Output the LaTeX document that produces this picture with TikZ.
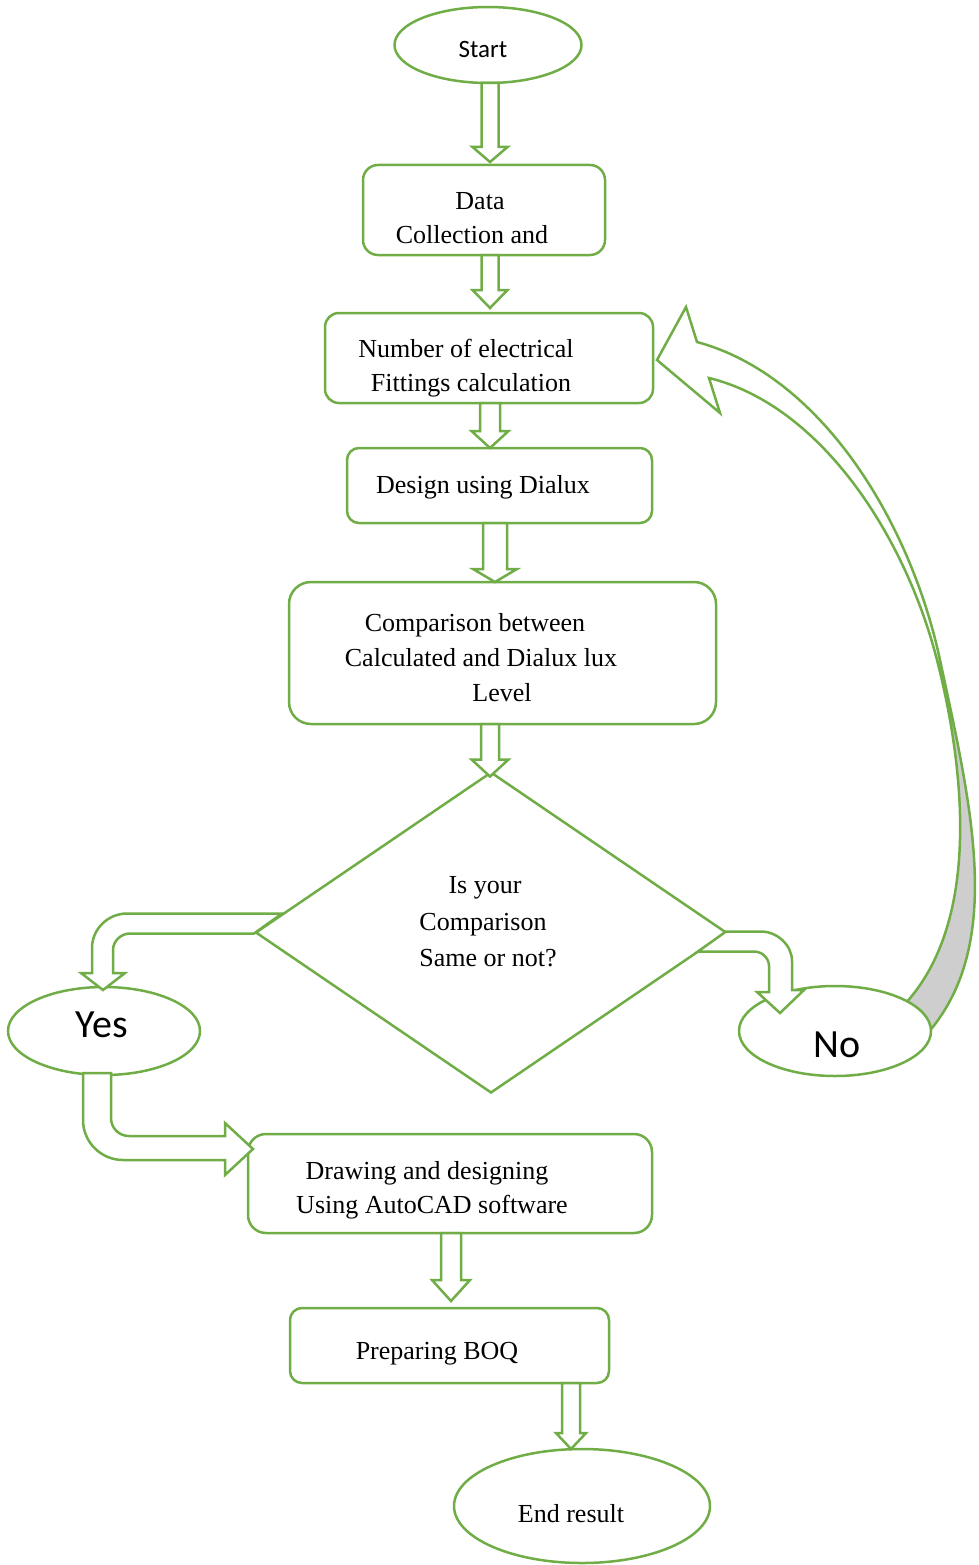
\documentclass[tikz,border=0pt]{standalone}
\usepackage{fontspec}
\setmainfont{Liberation Serif}
\newfontfamily\calibri{Carlito}
\usetikzlibrary{shapes.geometric,calc}
\definecolor{grn}{RGB}{112,173,71}
\definecolor{bandgray}{RGB}{206,206,206}
\tikzset{
 shp/.style={draw=grn, line width=2.5pt, fill=white, inner sep=0pt, outer sep=0pt},
 oval/.style={shp, ellipse},
 box/.style={shp, rectangle, rounded corners=#1},
 box/.default=14pt,
 dia/.style={shp, diamond},
 blk/.style={draw=grn, line width=2.5pt, fill=white, line join=miter},
 txt/.style={anchor=base, inner sep=0pt, font=\fontsize{26}{32}\selectfont},
 ctxt/.style={anchor=base, inner sep=0pt, font=\calibri\fontsize{25}{30}\selectfont},
 btxt/.style={anchor=base, inner sep=0pt, font=\calibri\fontsize{40}{48}\selectfont},
}
% from, to, x centre, shaft half width, head half width, head length, tip offset (down +)
\newcommand\dnarrow[7]{%
 \draw[blk] let \p1=(#1), \p2=($(#2)+(0,#7)$) in
   (#3pt-#4pt,\y1) -- (#3pt-#4pt,\y2+#6pt) -- (#3pt-#5pt,\y2+#6pt) -- (#3pt,\y2)
   -- (#3pt+#5pt,\y2+#6pt) -- (#3pt+#4pt,\y2+#6pt) -- (#3pt+#4pt,\y1) -- cycle;}
\begin{document}
\begin{tikzpicture}[x=1pt,y=-1pt]
\useasboundingbox (0,0) rectangle (978,1565);

% node needed by the curved arrow, and the centre of the No node
\node[box=14pt, minimum width=328pt, minimum height=90pt] (number) at (489,358) {};
\coordinate (noC) at (835,1031);

% curved return arrow (No -> Number)
\coordinate (cvTip) at ($(number.east)+(4,2)$);
\coordinate (cvN1) at ($(cvTip)+(40,-18)$);
\coordinate (cvN2) at ($(cvTip)+(52,18)$);
\coordinate (cvB1) at ($(noC)+(92,3)$);
\coordinate (cvB2) at ($(noC)+(68,-25)$);
\fill[bandgray] (940,660) .. controls (971.5,807) and (1005,945) .. (cvB1)
  -- (cvB2) .. controls (985,920) and (961.8,757) .. (937,660) -- cycle;
\draw[grn, line width=2.5pt, line join=miter]
  (cvB1) .. controls (1005,945) and (971.5,807) .. (940,660)
  .. controls (910,520) and (820,375) .. (cvN1)
  -- ($(cvTip)+(29,-53)$) -- (cvTip) -- ($(cvTip)+(63,53)$) -- (cvN2)
  .. controls (820,405) and (905,535) .. (937,660)
  .. controls (961.8,757) and (985,920) .. (cvB2);

% nodes
\node[oval, minimum width=192pt, minimum height=90pt] (no) at (noC) {};
\node[oval, minimum width=187pt, minimum height=76pt] (start) at (488,45) {};
\node[box=15pt, minimum width=242pt, minimum height=90pt] (data) at (484,210) {};
\node[box=12pt, minimum width=305pt, minimum height=75pt] (design) at (499.5,485.5) {};
\node[box=22pt, minimum width=427pt, minimum height=142pt] (comp) at (502.5,653) {};
\node[dia, minimum width=470pt, minimum height=320pt] (dec) at (491,932.5) {};
\node[oval, minimum width=192pt, minimum height=88pt] (yes) at (104,1031) {};
\node[box=18pt, minimum width=404pt, minimum height=99pt] (drawing) at (450,1183.5) {};
\node[box=12pt, minimum width=319pt, minimum height=75pt] (boq) at (449.5,1345.5) {};
\node[oval, minimum width=256pt, minimum height=114pt] (fin) at (582,1506) {};

% straight block arrows
\dnarrow{start.south}{data.north}{490}{8.5}{17.5}{15}{-3}
\dnarrow{data.south}{number.north}{490}{8.5}{17.5}{18}{-5}
\dnarrow{number.south}{design.north}{490}{10}{18.5}{17}{0}
\dnarrow{design.south}{comp.north}{495}{12}{22}{13}{0}
\dnarrow{comp.south}{dec.north}{490}{9}{18.5}{17}{4}
\dnarrow{drawing.south}{boq.north}{451}{10}{19}{21}{-7}
\dnarrow{boq.south}{fin.north}{571}{9}{15}{16}{0}

% bent arrow: decision -> Yes
\draw[blk] let \p1=(dec.west), \p2=(yes.north) in
  (\x1+26pt,\y1+19pt) -- (\x2+23pt,\y1+19pt)
  .. controls (\x2+4pt,\y1+19pt) and (\x2-12pt,\y2+58pt) .. (\x2-12pt,\y2+39pt)
  -- (\x2-12pt,\y2+14pt) -- (\x2-23pt,\y2+14pt) -- (\x2-1pt,\y2-3pt) -- (\x2+21pt,\y2+14pt)
  -- (\x2+9pt,\y2+14pt) -- (\x2+9pt,\y2+37pt)
  .. controls (\x2+9pt,\y2+46pt) and (\x2+17pt,\y1-1pt) .. (\x2+26pt,\y1-1pt)
  -- (\x1-2pt,\y1-1pt) -- cycle;

% bent arrow: decision -> No
\draw[blk] let \p1=(dec.east), \p2=(no.center) in
  (\x1,\y1+1pt) -- (\x1+35pt,\y1+1pt)
  .. controls (\x1+51pt,\y1+1pt) and (\x2-43pt,\y2+86pt) .. (\x2-43pt,\y2+70pt)
  -- (\x2-43pt,\y2+41pt) -- (\x2-31pt,\y2+41pt) -- (\x2-55pt,\y2+18pt) -- (\x2-78pt,\y2+39pt)
  -- (\x2-66pt,\y2+39pt) -- (\x2-66pt,\y2+65pt)
  .. controls (\x2-66pt,\y2+73pt) and (\x2-73pt,\y1-19pt) .. (\x2-81pt,\y1-19pt)
  -- (\x1-28pt,\y1-19pt) -- cycle;

% bent arrow: Yes -> Drawing
\draw[blk] let \p1=(yes.south), \p2=(drawing.north west) in
  (\x1-21pt,\y1+2pt) -- (\x1+7pt,\y1+2pt) -- (\x1+7pt,\y2+16pt)
  .. controls (\x1+7pt,\y2+6pt) and (\x1+15pt,\y2-2pt) .. (\x1+25pt,\y2-2pt)
  -- (\x2-23pt,\y2-2pt) -- (\x2-23pt,\y2+11pt) -- (\x2+5pt,\y2-15pt) -- (\x2-23pt,\y2-41pt)
  -- (\x2-23pt,\y2-26pt) -- (\x1+19pt,\y2-26pt)
  .. controls (\x1-3pt,\y2-26pt) and (\x1-21pt,\y2-8pt) .. (\x1-21pt,\y2+14pt)
  -- cycle;

% texts
\node[ctxt] (tStart) at (483,58) {Start};
\node[txt] (tData1) at (480,209) {Data};
\node[txt] (tData2) at (472,243) {Collection and};
\node[txt] (tNum1) at (466,357) {Number of electrical};
\node[txt] (tNum2) at (471,391) {Fittings calculation};
\node[txt] (tDes) at (483,493) {Design using Dialux};
\node[txt] (tCmp1) at (475,631) {Comparison between};
\node[txt] (tCmp2) at (481,666) {Calculated and Dialux lux};
\node[txt] (tCmp3) at (502,701) {Level};
\node[txt] (tDec1) at (485,893) {Is your};
\node[txt] (tDec2) at (483,930) {Comparison};
\node[txt] (tDec3) at (488,966) {Same or not?};
\node[btxt] (tYes) at (102,1037) {Yes};
\node[btxt] (tNo) at (837,1057) {No};
\node[txt] (tDrw1) at (427,1179) {Drawing and designing};
\node[txt] (tDrw2) at (432,1213) {Using AutoCAD software};
\node[txt] (tBoq) at (437,1359) {Preparing BOQ};
\node[txt] (tEnd) at (571,1522) {End result};
\end{tikzpicture}
\end{document}
